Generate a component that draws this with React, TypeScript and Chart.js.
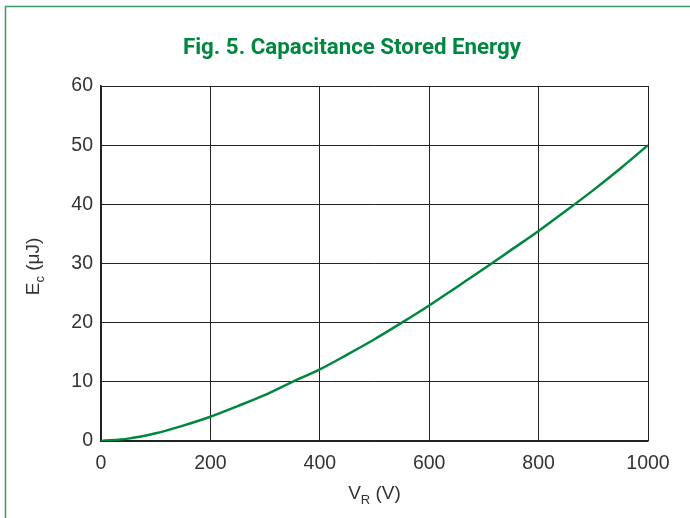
import React, { useEffect, useRef } from "react";
import { Chart, registerables } from "chart.js";

Chart.register(...registerables);

const voltages = [0, 50, 100, 150, 200, 250, 300, 350, 400, 450, 500, 550, 600, 650, 700, 750, 800, 850, 900, 950, 1000];
const energy = [0, 0.4, 1.3, 2.6, 4.1, 5.9, 7.8, 10.0, 12.1, 14.6, 17.2, 20.0, 22.9, 26.0, 29.1, 32.3, 35.5, 38.9, 42.4, 46.1, 50.0];
const xTicks = [0, 200, 400, 600, 800, 1000];
const yTicks = [0, 10, 20, 30, 40, 50, 60];
const titleText = "Fig. 5. Capacitance Stored Energy";

const GREEN = "#00873f";
const FONT = "'Liberation Sans', Arial, sans-serif";

const decorPlugin = {
  id: "decor",
  beforeDraw(chart: any) {
    const ctx = chart.ctx;
    ctx.save();
    ctx.fillStyle = "#ffffff";
    ctx.fillRect(0, 0, chart.width, chart.height);
    ctx.strokeStyle = "#3b9a5e";
    ctx.lineWidth = 1.5;
    ctx.beginPath();
    ctx.moveTo(5.5, chart.height + 5);
    ctx.lineTo(5.5, 6.5);
    ctx.lineTo(chart.width + 5, 6.5);
    ctx.stroke();
    ctx.restore();
  },
  afterDraw(chart: any) {
    const ctx = chart.ctx;
    const area = chart.chartArea;
    ctx.save();
    // title
    ctx.fillStyle = GREEN;
    ctx.font = `bold 22.3px Roboto, ${FONT}`;
    ctx.textAlign = "center";
    ctx.textBaseline = "middle";
    ctx.fillText(titleText, 352, 48);

    // x axis title: V_R (V)
    ctx.fillStyle = "#333333";
    ctx.textBaseline = "alphabetic";
    ctx.textAlign = "left";
    const main = `19px ${FONT}`;
    const sub = `13px ${FONT}`;
    ctx.font = main;
    const wV = ctx.measureText("V").width;
    const wRest = ctx.measureText(" (V)").width;
    ctx.font = sub;
    const wR = ctx.measureText("R").width;
    const total = wV + wR + wRest;
    const cx = (area.left + area.right) / 2;
    let x = cx - total / 2;
    const by = 499;
    ctx.font = main;
    ctx.fillText("V", x, by);
    x += wV;
    ctx.font = sub;
    ctx.fillText("R", x, by + 5);
    x += wR;
    ctx.font = main;
    ctx.fillText(" (V)", x, by);

    // y axis title: E_c (μJ)
    const cy = (area.top + area.bottom) / 2;
    ctx.translate(39, cy + 3);
    ctx.rotate(-Math.PI / 2);
    ctx.font = main;
    const wE = ctx.measureText("E").width;
    const wRest2 = ctx.measureText(" (μJ)").width;
    ctx.font = sub;
    const wc = ctx.measureText("c").width;
    const total2 = wE + wc + wRest2;
    let x2 = -total2 / 2;
    ctx.font = main;
    ctx.fillText("E", x2, 0);
    x2 += wE;
    ctx.font = sub;
    ctx.fillText("c", x2, 5);
    x2 += wc;
    ctx.font = main;
    ctx.fillText(" (μJ)", x2, 0);
    ctx.restore();
  },
};

export default function App() {
  const canvasRef = useRef<HTMLCanvasElement | null>(null);

  useEffect(() => {
    document.body.style.margin = "0";
    const canvas = canvasRef.current;
    if (!canvas) return;
    const chart = new Chart(canvas, {
      type: "line",
      data: {
        datasets: [
          {
            data: voltages.map((v, i) => ({ x: v, y: energy[i] })),
            borderColor: GREEN,
            borderWidth: 2.5,
            pointRadius: 0,
            tension: 0.4,
            cubicInterpolationMode: "monotone",
            fill: false,
          },
        ],
      },
      options: {
        animation: false,
        responsive: false,
        maintainAspectRatio: false,
        devicePixelRatio: 1,
        layout: { padding: { left: 0, top: 86, right: 42, bottom: 0 } },
        plugins: {
          legend: { display: false },
          title: { display: false },
          tooltip: { enabled: false },
        },
        scales: {
          x: {
            type: "linear",
            min: 0,
            max: 1000,
            afterBuildTicks: (scale: any) => {
              scale.ticks = xTicks.map((v) => ({ value: v }));
            },
            afterFit: (scale: any) => {
              scale.height = 77;
            },
            grid: { color: "#222222", lineWidth: 1, drawTicks: false },
            border: { color: "#222222", width: 1.5 },
            ticks: {
              padding: 11,
              color: "#333333",
              font: { family: FONT, size: 19.5 },
              maxRotation: 0,
              callback: (v: any) => String(v),
            },
          },
          y: {
            type: "linear",
            min: 0,
            max: 60,
            afterBuildTicks: (scale: any) => {
              scale.ticks = yTicks.map((v) => ({ value: v }));
            },
            afterFit: (scale: any) => {
              scale.width = 101;
            },
            grid: { color: "#222222", lineWidth: 1, drawTicks: false },
            border: { color: "#222222", width: 1.5 },
            ticks: {
              padding: 8,
              color: "#333333",
              font: { family: FONT, size: 19.5 },
              callback: (v: any) => String(v),
            },
          },
        },
      },
      plugins: [decorPlugin],
    } as any);
    return () => chart.destroy();
  }, []);

  return (
    <div style={{ width: 690, height: 518 }}>
      <canvas ref={canvasRef} width={690} height={518} style={{ display: "block" }} />
    </div>
  );
}
